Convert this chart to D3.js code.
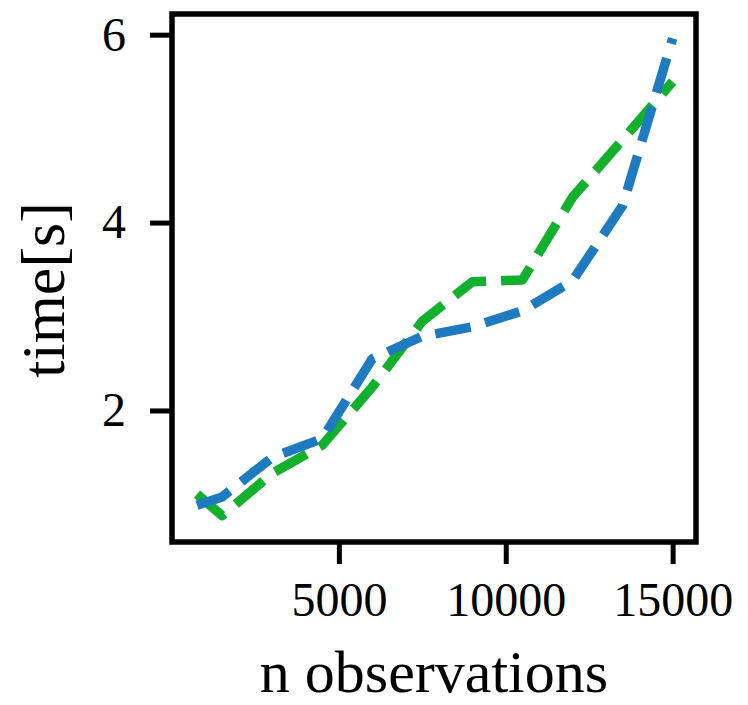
<!DOCTYPE html>
<html><head><meta charset="utf-8">
<script src="https://cdn.jsdelivr.net/npm/d3@7"></script>
<style>
html,body{margin:0;padding:0;background:#fff;}
text{font-family:"Liberation Serif","DejaVu Serif",serif;fill:#000;}
</style></head>
<body>
<svg id="chart" width="748" height="705"></svg>
<script>
const nObs = [750, 1500, 3000, 4500, 6000, 7500, 9000, 10500, 12000, 13500, 15000];
const blueTimes = [0.99, 1.08, 1.50, 1.70, 2.55, 2.79, 2.89, 3.06, 3.38, 4.18, 5.96];
const greenTimes = [1.11, 0.88, 1.33, 1.63, 2.25, 2.95, 3.37, 3.39, 4.27, 4.88, 5.50];
const xTicks = [5000, 10000, 15000];
const yTicks = [2, 4, 6];

const svg = d3.select("#chart");
const L = 172, R = 696, T = 14, B = 542;
const x = d3.scaleLinear().domain([0, 15700]).range([L, R]);
const y = d3.scaleLinear().domain([0.6, 6.22]).range([B, T]);

const line = d3.line().x((d,i)=>x(nObs[i])).y(d=>y(d));

const series = [
  {vals: greenTimes, color: "#13b02d"},
  {vals: blueTimes, color: "#1f7bbf"}
];
series.forEach(s => {
  svg.append("path").datum(s.vals)
    .attr("d", line)
    .attr("fill", "none")
    .attr("stroke", s.color)
    .attr("stroke-width", 9.5)
    .attr("stroke-dasharray", "36,15")
    .attr("stroke-linejoin", "round");
});

// axes
const xAxis = d3.axisBottom(x).tickValues(xTicks).tickSize(22).tickPadding(18).tickFormat(d3.format("d"));
const gx = svg.append("g").attr("transform", `translate(0,${B})`).call(xAxis);
gx.select(".domain").remove();
gx.selectAll(".tick line").attr("stroke", "#000").attr("stroke-width", 5);
gx.selectAll(".tick text").style("font-size", "48px");

const yAxis = d3.axisLeft(y).tickValues(yTicks).tickSize(22).tickPadding(24).tickFormat(d3.format("d"));
const gy = svg.append("g").attr("transform", `translate(${L},0)`).call(yAxis);
gy.select(".domain").remove();
gy.selectAll(".tick line").attr("stroke", "#000").attr("stroke-width", 5);
gy.selectAll(".tick text").style("font-size", "48px");

// frame
svg.append("rect").attr("x", L).attr("y", T).attr("width", R - L).attr("height", B - T)
  .attr("fill", "none").attr("stroke", "#000").attr("stroke-width", 5.5);

svg.append("text").attr("x", 434).attr("y", 692)
  .attr("text-anchor", "middle").style("font-size", "60px").text("n observations");
svg.append("text").attr("transform", "translate(64,290) rotate(-90)")
  .attr("text-anchor", "middle").style("font-size", "62px").text("time[s]");
</script>
</body></html>
